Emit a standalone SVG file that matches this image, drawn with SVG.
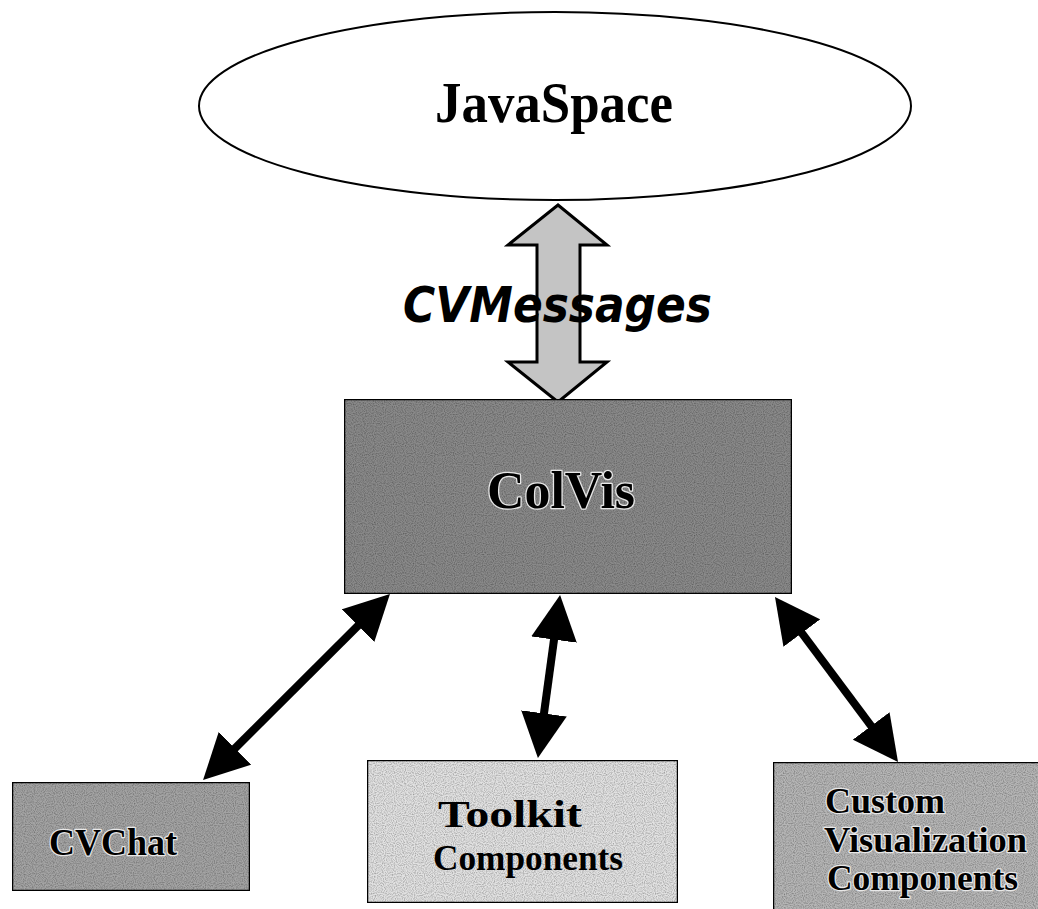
<svg xmlns="http://www.w3.org/2000/svg" width="1038" height="909" viewBox="0 0 1038 909">
  <style>
    .box { stroke: #000; stroke-width: 2.5; }
    .lbl { font-family: "Liberation Serif", "Times New Roman", serif; font-weight: bold; fill: #000; }
    .emb { stroke: #e8e8e8; stroke-width: 2.5; paint-order: stroke; stroke-linejoin: round; }
    .conn { stroke: #000; stroke-width: 8; fill: none; marker-start: url(#head); marker-end: url(#head); }
  </style>
  <defs>
    <marker id="head" viewBox="0 0 45 46" refX="5" refY="23" markerWidth="45" markerHeight="46" markerUnits="userSpaceOnUse" orient="auto-start-reverse">
      <path d="M0,0 L45,23 L0,46 Z" fill="#000"/>
    </marker>
    <filter id="grain" x="0" y="0" width="1" height="1">
      <feTurbulence type="fractalNoise" baseFrequency="0.9" numOctaves="1" seed="3" result="n"/>
      <feColorMatrix in="n" type="matrix" values="0 0 0 0 0  0 0 0 0 0  0 0 0 0 0  0 0 0 -1.2 0.75" result="dots"/>
      <feComposite in="dots" in2="SourceGraphic" operator="in" result="d2"/>
      <feMerge><feMergeNode in="SourceGraphic"/><feMergeNode in="d2"/></feMerge>
    </filter>
  </defs>
  <rect width="1038" height="909" fill="#fff"/>

  <g id="javaspace">
    <ellipse cx="555" cy="106" rx="356" ry="94" fill="#fff" stroke="#000" stroke-width="2"/>
    <text class="lbl" x="554" y="122" font-size="56" text-anchor="middle" textLength="238" lengthAdjust="spacingAndGlyphs">JavaSpace</text>
  </g>

  <g id="cvmessages">
    <path d="M558,205 L607,245 L580,245 L580,362 L607,362 L558,402 L508,362 L537,362 L537,245 L508,245 Z" fill="#c4c4c4" stroke="#000" stroke-width="3" stroke-linejoin="miter"/>
    <text x="403" y="322" font-family="'DejaVu Sans', 'Liberation Sans', sans-serif" font-style="italic" font-weight="bold" font-size="50" fill="#000" textLength="309" lengthAdjust="spacingAndGlyphs">CVMessages</text>
  </g>

  <g id="colvis">
    <rect class="box" x="344" y="399" width="448" height="195" fill="#8a8a8a" filter="url(#grain)"/>
    <text class="lbl emb" x="561" y="508" font-size="52" text-anchor="middle" textLength="148" lengthAdjust="spacingAndGlyphs">ColVis</text>
  </g>

  <g id="cvchat">
    <rect class="box" x="12" y="782" width="238" height="109" fill="#a4a4a4" filter="url(#grain)"/>
    <text class="lbl emb" x="49" y="855" font-size="38" textLength="128" lengthAdjust="spacingAndGlyphs">CVChat</text>
  </g>

  <g id="toolkit">
    <rect class="box" x="367" y="760" width="311" height="143" fill="#e2e2e2" filter="url(#grain)"/>
    <text class="lbl" x="438" y="827" font-size="38" textLength="144" lengthAdjust="spacingAndGlyphs">Toolkit</text>
    <text class="lbl" x="433" y="870" font-size="36" textLength="190" lengthAdjust="spacingAndGlyphs">Components</text>
  </g>

  <g id="custom">
    <rect class="box" x="773" y="762" width="270" height="150" fill="#b6b6b6" filter="url(#grain)"/>
    <text class="lbl emb" x="825" y="813" font-size="36" textLength="120" lengthAdjust="spacingAndGlyphs">Custom</text>
    <text class="lbl emb" x="824" y="852" font-size="36" textLength="203" lengthAdjust="spacingAndGlyphs">Visualization</text>
    <text class="lbl emb" x="827" y="890" font-size="36" textLength="191" lengthAdjust="spacingAndGlyphs">Components</text>
  </g>

  <g id="connectors">
    <line class="conn" x1="361.6" y1="622.2" x2="231.4" y2="751.8"/>
    <line class="conn" x1="554.7" y1="634.6" x2="543.3" y2="718.4"/>
    <line class="conn" x1="798.9" y1="629.1" x2="874.1" y2="729.9"/>
  </g>
</svg>
